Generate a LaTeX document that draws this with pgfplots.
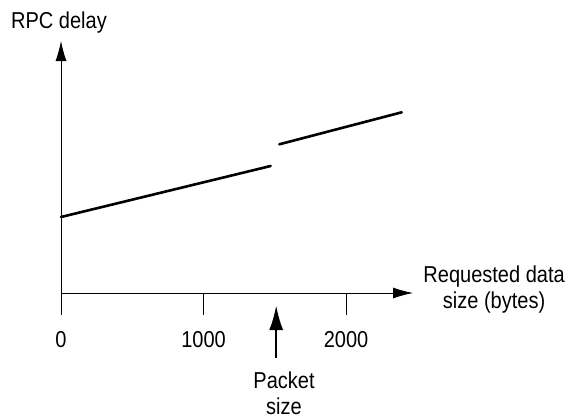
\documentclass[border=0pt]{standalone}
\usepackage{pgfplots}
\pgfplotsset{compat=1.18}
\usepackage{fontspec}
\setmainfont{Liberation Sans}[FakeStretch=0.87]
\usetikzlibrary{arrows.meta}
\begin{document}
\begin{tikzpicture}[x=1pt,y=1pt]
\fontsize{23}{26}\selectfont
\begin{axis}[
  at={(0,0)}, anchor=origin,
  scale only axis, width=352pt, height=252pt,
  xmin=0, xmax=2470, ymin=0, ymax=252,
  axis lines=left,
  axis line style={-{Latex[length=20pt,width=11pt]}, draw=black, line width=0.8pt},
  xtick={0,1000,2000}, ytick=\empty,
  tick align=outside, major tick length=22pt,
  tick style={draw=black, line width=0.8pt},
  /pgf/number format/assume math mode=true,
  /pgf/number format/1000 sep={},
  xticklabel style={font=\fontsize{23}{26}\selectfont, anchor=base, yshift=-32pt},
  clip=false,
]
\addplot[black, line width=2.6pt, line cap=round] coordinates {(0,76) (1471,127)};
\addplot[black, line width=2.6pt, line cap=round] coordinates {(1532,148.7) (2391,180.7)};
\draw[-{Latex[length=25pt,width=14pt]}, line width=2.6pt] (axis cs:1510,-65) -- (axis cs:1510,-12);
\node[anchor=base, align=center, inner sep=0pt, font=\fontsize{23}{26}\selectfont] at (axis cs:1565,-121) {Packet\\size};
\node[anchor=base, align=center, inner sep=0pt, font=\fontsize{23}{26}\selectfont] at (axis cs:3039,-15) {Requested data\\size (bytes)};
\node[anchor=base, inner sep=0pt, font=\fontsize{23}{26}\selectfont] at (axis cs:-14,264.7) {RPC delay};
\end{axis}
\pgfresetboundingbox
\path[use as bounding box] (-61pt,-125pt) rectangle (509pt,293pt);
\end{tikzpicture}
\end{document}
